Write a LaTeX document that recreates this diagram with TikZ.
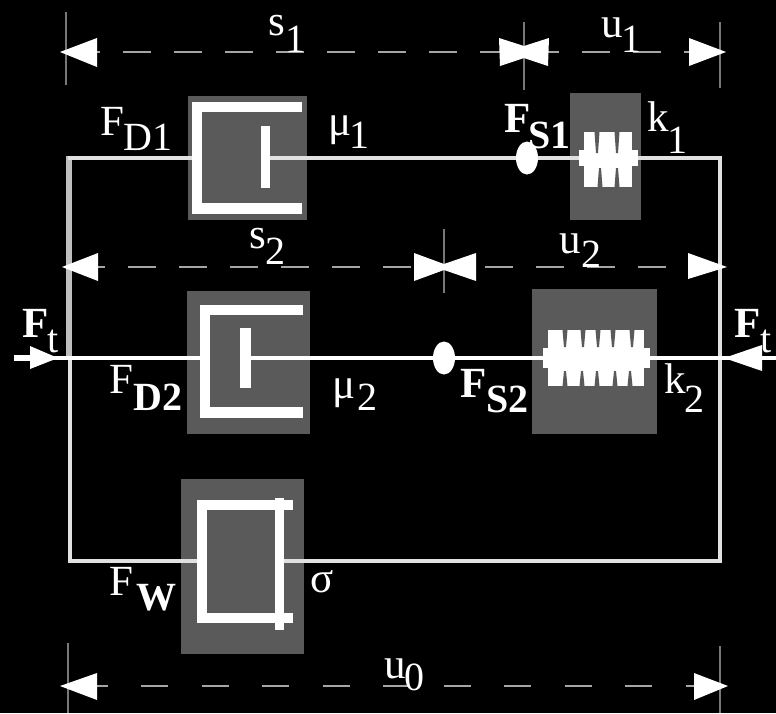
\documentclass[tikz,border=0pt]{standalone}
\usepackage{fontspec}
\setmainfont{Liberation Serif}
\definecolor{boxgray}{RGB}{90,90,90}
\definecolor{dimgray}{RGB}{165,165,165}
\definecolor{tickgray}{RGB}{120,120,120}
\definecolor{framegray}{RGB}{225,225,225}
\newcommand{\lab}[5][]{\node[txt,#1] (#2) at (#3,#4) {\fontsize{43}{43}\selectfont #5};}
\newcommand{\lsub}[5][]{\node[txt,#1] (#2) at (#3,#4) {\fontsize{40}{40}\selectfont #5};}
\tikzset{
  txt/.style={anchor=base west,inner sep=0pt,text=white,font=\rmfamily},
  gbox/.style={fill=boxgray,draw=none},
  wire/.style={draw=framegray,line width=3.5pt},
  mwire/.style={draw=white,line width=4pt},
  wall/.style={draw=white,line width=10.5pt,line join=miter},
  dimtop/.style={draw=dimgray,line width=1.8pt,dash pattern=on 28pt off 23pt},
  dimbot/.style={draw=dimgray,line width=1.8pt,dash pattern=on 27pt off 33.5pt},
  tick/.style={draw=tickgray,line width=2.5pt},
  tip/.style={fill=white,draw=none},
  joint/.style={ellipse,fill=white,inner sep=0pt,minimum width=22pt,minimum height=33pt}
}
\usetikzlibrary{shapes.geometric}
\begin{document}
\begin{tikzpicture}[x=1pt,y=-1pt]
\useasboundingbox[fill=black] (0,0) rectangle (776,713);
% gray boxes
\fill[gbox] (188,96) rectangle (307,220);
\fill[gbox] (570,93) rectangle (641,220);
\fill[gbox] (187,291) rectangle (310,434);
\fill[gbox] (532,289) rectangle (657,434);
\fill[gbox] (181,479) rectangle (304,654);
% named points
\coordinate (tl) at (68,158); \coordinate (tr) at (720,158);
\coordinate (bl) at (70,561); \coordinate (br) at (720,561);
\coordinate (d1l) at (192,158); \coordinate (d1r) at (270,158);
\coordinate (s1l) at (585,158); \coordinate (s1r) at (635,158);
\coordinate (ml) at (14,358); \coordinate (mr) at (776,358);
\coordinate (d2l) at (200,358); \coordinate (d2r) at (251,358);
\coordinate (s2l) at (548,358); \coordinate (s2r) at (648,358);
\coordinate (w3l) at (198,561); \coordinate (w3r) at (284,561);
% frame wires
\draw[draw=black!25,line width=6pt] (68.5,156) -- (68.5,358);
\draw[draw=framegray,line width=4.5pt] (70,358) -- (bl);
\draw[wire] (d1l) -- (tl);
\draw[wire] (d1r) -- (s1l);
\draw[wire] (s1r) -- (tr) -- (br) -- (w3r);
\draw[wire] (68,561) -- (w3l);
\draw[mwire] (ml) -- (d2l);
\draw[mwire] (d2r) -- (s2l);
\draw[mwire] (s2r) -- (mr);
% damper 1
\draw[wall] (302,107) -- (197,107) -- (197,208.5) -- (302,208.5);
\fill[white] (261,126) rectangle (270,188);
% damper 2
\draw[wall] (303,310) -- (205,310) -- (205,412.5) -- (303,412.5);
\fill[white] (240,328) rectangle (251,388);
% dashpot 3
\draw[wall,line width=9.5pt] (293,505) -- (202,505) -- (202,618) -- (293,618);
\draw[wall,line width=9.5pt] (279.5,498) -- (279.5,630);
% springs: solid body with the coil gaps cut out
\fill[white] (584,132) rectangle (632,187);
\fill[white] (579,150) rectangle (638,166);
\foreach \x in {597,617}{\fill[boxgray] (\x-2.5,132) -- (\x+2.5,132) -- (\x+1,153) -- (\x-1,153) -- cycle;}
\foreach \x in {600,617}{\fill[boxgray] (\x-2.5,187) -- (\x+2.5,187) -- (\x+1,168) -- (\x-1,168) -- cycle;}
\fill[white] (548,330) rectangle (644,386);
\fill[white] (543,348) rectangle (650,368);
\foreach \x in {565,583,598,613,632}{\fill[boxgray] (\x-2.5,330) -- (\x+2.5,330) -- (\x+1,347) -- (\x-1,347) -- cycle;}
\foreach \x in {565,582,597,615,630}{\fill[boxgray] (\x-2.5,386) -- (\x+2.5,386) -- (\x+1,371) -- (\x-1,371) -- cycle;}
% joints
\node[joint] (j1) at (527,158) {};
\node[joint] (j2) at (444,358) {};
% dimension ticks
\draw[tick] (66,12) -- (66,85);
\draw[tick] (524,22) -- (524,90);
\draw[tick] (720,22) -- (720,88);
\draw[tick] (444,229) -- (444,293);
\draw[tick] (68,643) -- (68,713);
\draw[tick] (720,646) -- (720,713);
% dimension lines
\coordinate (dal) at (62,52); \coordinate (dar) at (725,52);
\coordinate (dbl) at (62,267); \coordinate (dbr) at (725,267);
\coordinate (dcl) at (62,686); \coordinate (dcr) at (725,686);
\draw[dimtop,dash phase=41pt] (dal) -- (dar);
\draw[dimtop,dash phase=36pt] (dbl) -- (dbr);
\draw[dimbot,dash phase=42pt] (dcl) -- (dcr);
% arrowheads
\fill[tip] (60,52) -- (97,38) -- (97,67) -- cycle;
\fill[tip] (499,38) -- (524,46) -- (549,38) -- (548,66) -- (524,58) -- (500,66) -- cycle;
\fill[tip] (726,52) -- (689,38) -- (689,66) -- cycle;
\fill[tip] (62,267) -- (98,253) -- (98,281) -- cycle;
\fill[tip] (414,253) -- (444,264) -- (476,253) -- (476,281) -- (444,270) -- (414,281) -- cycle;
\fill[tip] (727,267) -- (688,253) -- (688,279) -- cycle;
\fill[tip] (60,686) -- (97,673) -- (97,700) -- cycle;
\fill[tip] (728,686) -- (694,673) -- (694,700) -- cycle;
\fill[tip] (58,358) -- (30,346) -- (30,369) -- cycle;
\fill[white] (14,355) rectangle (32,361);
\fill[tip] (724,358) -- (762,345) -- (762,371) -- cycle;
% labels
\lab{a1}{268}{35}{s}\lsub{a2}{285}{52}{1}
\lab{b1}{601}{37}{u}\lsub{b2}{621}{52}{1}
\lab{c1}{100}{135}{F}\lsub{c2}{123}{150}{D1}
\lab{e1}{328}{135}{μ}\lsub{e2}{349}{148}{1}
\lab[font=\rmfamily\bfseries]{f1}{504}{132}{F}\lsub[font=\rmfamily\bfseries]{f2}{528}{148}{S1}
\lab{g1}{647}{131}{k}\lsub{g2}{667}{153}{1}
\lab{h1}{249}{248}{s}\lsub{h2}{265}{264}{2}
\lab{i1}{559}{253}{u}\lsub{i2}{581}{267}{2}
\lab[font=\rmfamily\bfseries]{l1}{22}{337}{F}\lsub{l2}{47}{352}{t}
\lab{m1}{109}{393}{F}\lsub[font=\rmfamily\bfseries]{m2}{133}{410}{D2}
\lab{n1}{332}{398}{μ}\lsub{n2}{357}{410}{2}
\lab[font=\rmfamily\bfseries]{o1}{460}{397}{F}\lsub[font=\rmfamily\bfseries]{o2}{486}{412}{S2}
\lab{p1}{664}{393}{k}\lsub{p2}{684}{412}{2}
\lab[font=\rmfamily\bfseries]{q1}{734}{337}{F}\lsub{q2}{760}{352}{t}
\lab{r1}{109}{595}{F}\lsub[font=\rmfamily\bfseries]{r2}{136}{610}{W}
\lab{t1}{310}{592}{σ}
\lab{v1}{384}{678}{u}\lsub{v2}{404}{690}{0}
\end{tikzpicture}
\end{document}
